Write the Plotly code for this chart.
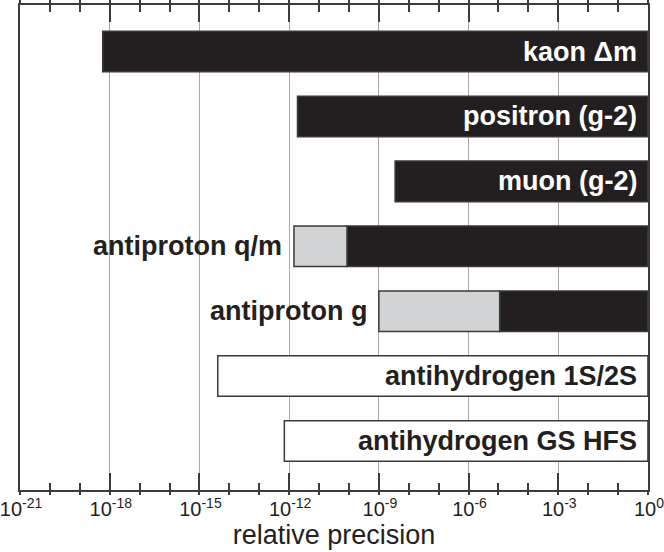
import math

import plotly.graph_objects as go

# measurements, top to bottom
labels = [
    "kaon \u0394m",
    "positron (g-2)",
    "muon (g-2)",
    "antiproton q/m",
    "antiproton g",
    "antihydrogen 1S/2S",
    "antihydrogen GS HFS",
]
lower = [5.8e-19, 1.9e-12, 3.5e-9, 1.45e-12, 1e-9, 4.1e-15, 6.9e-13]
gray_end = [None, None, None, 8.6e-11, 1.1e-5, None, None]
filled = [True, True, True, True, True, False, False]
label_outside = [False, False, False, True, True, False, False]
upper = 1.0

major_exp = [-21, -18, -15, -12, -9, -6, -3, 0]
minor_exp = [e for e in range(-21, 1) if e not in major_exp]
tick_text = ["10<sup>%d</sup>" % e for e in major_exp]

BLACK = "#231f20"
GRAY = "#d1d3d4"
EDGE = "#3a3a3a"
AXIS = "#3c3c3c"

fig = go.Figure()

black_y, black_base, black_x = [], [], []
gray_y, gray_base, gray_x = [], [], []
white_y, white_base, white_x = [], [], []
for name, lo, mid, full in zip(labels, lower, gray_end, filled):
    if not full:
        white_y.append(name)
        white_base.append(lo)
        white_x.append(upper - lo)
        continue
    start = lo
    if mid is not None:
        gray_y.append(name)
        gray_base.append(lo)
        gray_x.append(mid - lo)
        start = mid
    black_y.append(name)
    black_base.append(start)
    black_x.append(upper - start)

for ys, bases, xs, color in [
    (black_y, black_base, black_x, BLACK),
    (gray_y, gray_base, gray_x, GRAY),
    (white_y, white_base, white_x, "white"),
]:
    fig.add_trace(
        go.Bar(
            y=ys,
            x=xs,
            base=bases,
            orientation="h",
            width=0.625,
            marker=dict(color=color, line=dict(color=EDGE, width=1.5)),
            showlegend=False,
            hoverinfo="skip",
        )
    )

# second bottom axis only for the small outward tick stubs
fig.add_trace(
    go.Scatter(x=[1e-21, 1], y=[labels[0], labels[0]], xaxis="x2",
               mode="markers", marker=dict(opacity=0), showlegend=False,
               hoverinfo="skip")
)

for name, lo, full, outside in zip(labels, lower, filled, label_outside):
    if outside:
        x, shift, color = math.log10(lo), -10, BLACK
    else:
        x, shift, color = math.log10(upper), -9, "white" if full else BLACK
    fig.add_annotation(
        x=x,
        y=name,
        text=name,
        showarrow=False,
        xanchor="right",
        xshift=shift,
        font=dict(family="Liberation Sans, Arial", size=27, color=color,
                  weight="bold"),
    )

x_range = [-21.002, 0.002]

fig.update_layout(
    width=664,
    height=552,
    margin=dict(l=20, r=16, t=5, b=62),
    plot_bgcolor="white",
    paper_bgcolor="white",
    barmode="overlay",
    font=dict(family="Liberation Sans, Arial", color=BLACK),
    xaxis=dict(
        type="log",
        range=x_range,
        tickvals=[10.0 ** e for e in major_exp],
        ticktext=tick_text,
        ticks="inside",
        ticklen=17,
        tickwidth=1.5,
        tickcolor=AXIS,
        minor=dict(tickvals=[10.0 ** e for e in minor_exp], ticks="inside",
                   ticklen=7, tickwidth=1.5, tickcolor=AXIS, showgrid=False),
        showgrid=True,
        gridcolor="#a8a8a8",
        gridwidth=1,
        showline=True,
        linecolor=AXIS,
        linewidth=2,
        mirror="ticks",
        zeroline=False,
        automargin=False,
        ticklabeloverflow="allow",
        ticklabelshift=1,
        tickfont=dict(size=20, color=BLACK),
        title=dict(text="relative precision", font=dict(size=27, color=BLACK),
                   standoff=3),
    ),
    xaxis2=dict(
        type="log",
        range=x_range,
        overlaying="x",
        side="bottom",
        tickvals=[10.0 ** e for e in range(-21, 1)],
        ticks="outside",
        ticklen=4,
        tickwidth=1.5,
        tickcolor=AXIS,
        showticklabels=False,
        showgrid=False,
        showline=False,
        mirror="ticks",
        zeroline=False,
        automargin=False,
    ),
    yaxis=dict(
        type="category",
        categoryarray=labels,
        range=[6.756, -0.718],
        showticklabels=False,
        ticks="",
        showgrid=False,
        showline=True,
        linecolor=AXIS,
        linewidth=2,
        mirror=True,
        zeroline=False,
        automargin=False,
    ),
)

# drop the browser's default 8px page margin so the figure fills the window
fig.write_html(
    "out.html",
    config={"displayModeBar": False},
    post_script="document.body.style.margin = '0';",
)
